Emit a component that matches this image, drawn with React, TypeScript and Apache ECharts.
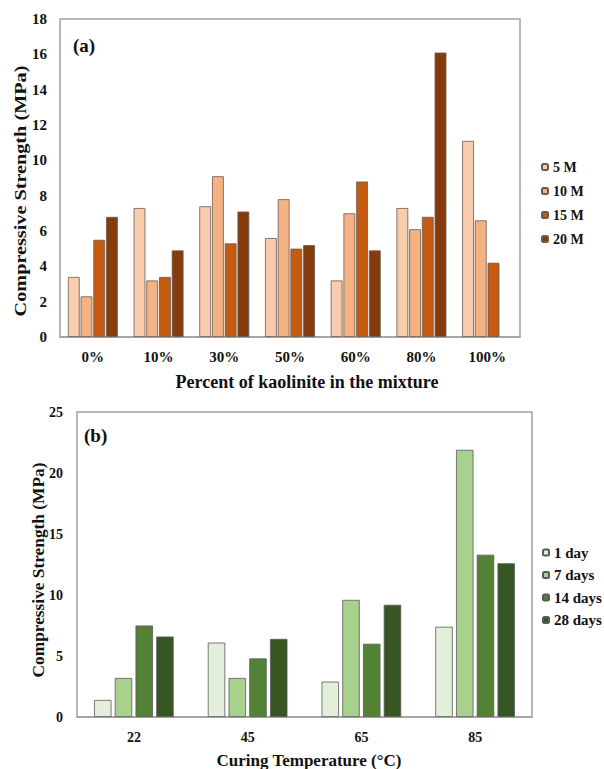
import React, { useEffect, useRef } from "react";
import * as echarts from "echarts";

const catsA = ["0%", "10%", "30%", "50%", "60%", "80%", "100%"];
const namesA = ["5 M", "10 M", "15 M", "20 M"];
const m5 = [3.4, 7.3, 7.4, 5.6, 3.2, 7.3, 11.1];
const m10 = [2.3, 3.2, 9.1, 7.8, 7.0, 6.1, 6.6];
const m15 = [5.5, 3.4, 5.3, 5.0, 8.8, 6.8, 4.2];
const m20 = [6.8, 4.9, 7.1, 5.2, 4.9, 16.1, null];
const colorsA = ["#F8CBAD", "#F4B183", "#C55A11", "#843C0C"];

const catsB = ["22", "45", "65", "85"];
const namesB = ["1 day", "7 days", "14 days", "28 days"];
const d1 = [1.4, 6.1, 2.9, 7.4];
const d7 = [3.2, 3.2, 9.6, 21.9];
const d14 = [7.5, 4.8, 6.0, 13.3];
const d28 = [6.6, 6.4, 9.2, 12.6];
const colorsB = ["#E2EFDA", "#A9D18E", "#548235", "#375623"];

const FONT = "Liberation Serif";
const yTitle = "Compressive Strength (MPa)";
const xTitleA = "Percent of kaolinite in the mixture";
const xTitleB = "Curing Temperature (°C)";

export default function App() {
  const ref = useRef<HTMLDivElement>(null);
  useEffect(() => {
    if (!ref.current) return;
    const chart = echarts.init(ref.current, undefined, { renderer: "svg" });
    const seriesA = [m5, m10, m15, m20].map((d, i) => ({
      name: namesA[i],
      type: "bar",
      xAxisIndex: 0,
      yAxisIndex: 0,
      data: d,
      barGap: "8%",
      barCategoryGap: "24%",
      itemStyle: { color: colorsA[i], borderColor: "#6b5a50", borderWidth: 0.8 },
    }));
    const seriesB = [d1, d7, d14, d28].map((d, i) => ({
      name: namesB[i],
      type: "bar",
      xAxisIndex: 1,
      yAxisIndex: 1,
      data: d,
      barGap: "19%",
      barCategoryGap: "30%",
      itemStyle: { color: colorsB[i], borderColor: "#5a5a5a", borderWidth: 0.8 },
    }));
    const lab = (size: number, margin: number) => ({
      fontFamily: FONT, fontWeight: "bold", fontSize: size, color: "#111", margin,
    });
    const txt = (text: string, size: number) => ({
      text, font: `bold ${size}px ${FONT}`, fill: "#111", align: "center", verticalAlign: "middle",
    });
    chart.setOption({
      animation: false,
      backgroundColor: "#fff",
      textStyle: { fontFamily: FONT },
      grid: [
        { left: 60, top: 19, width: 460, height: 318, show: true, borderColor: "#a0a0a0", borderWidth: 1.5 },
        { left: 77, top: 412, width: 455, height: 305, show: true, borderColor: "#a0a0a0", borderWidth: 1.5 },
      ],
      xAxis: [
        {
          type: "category", gridIndex: 0, data: catsA,
          axisTick: { show: false }, axisLine: { lineStyle: { color: "#a0a0a0", width: 1.5 } },
          axisLabel: lab(15, 12),
        },
        {
          type: "category", gridIndex: 1, data: catsB,
          axisTick: { show: false }, axisLine: { lineStyle: { color: "#a0a0a0", width: 1.5 } },
          axisLabel: lab(14, 13),
        },
      ],
      yAxis: [
        {
          type: "value", gridIndex: 0, min: 0, max: 18, interval: 2,
          splitLine: { show: false }, axisLine: { show: false }, axisTick: { show: false },
          axisLabel: lab(15, 13),
        },
        {
          type: "value", gridIndex: 1, min: 0, max: 25, interval: 5,
          splitLine: { show: false }, axisLine: { show: false }, axisTick: { show: false },
          axisLabel: lab(14, 14),
        },
      ],
      legend: [
        {
          data: namesA, orient: "vertical", left: 541, top: 160, padding: 0,
          itemWidth: 6, itemHeight: 6, itemGap: 10,
          textStyle: { fontFamily: FONT, fontWeight: "bold", fontSize: 14, color: "#111" },
        },
        {
          data: namesB, orient: "vertical", left: 542, top: 545, padding: 0,
          itemWidth: 6, itemHeight: 6, itemGap: 7.5,
          textStyle: { fontFamily: FONT, fontWeight: "bold", fontSize: 15, color: "#111" },
        },
      ],
      graphic: [
        { type: "text", x: 73, y: 45, style: { ...txt("(a)", 19), align: "left" } },
        { type: "text", x: 84, y: 435, style: { ...txt("(b)", 19), align: "left" } },
        { type: "text", x: 20, y: 191, rotation: Math.PI / 2, scaleX: 1.19, style: txt(yTitle, 17) },
        { type: "text", x: 39, y: 570, rotation: Math.PI / 2, scaleX: 1.02, style: txt(yTitle, 17) },
        { type: "text", x: 307, y: 382, style: txt(xTitleA, 18) },
        { type: "text", x: 309, y: 760, style: txt(xTitleB, 17) },
      ],
      series: [...seriesA, ...seriesB],
    });
    return () => chart.dispose();
  }, []);
  return (
    <div style={{ position: "absolute", left: 0, top: 0, width: 604, height: 769, background: "#fff" }}>
      <div ref={ref} style={{ width: 604, height: 769 }} />
    </div>
  );
}
